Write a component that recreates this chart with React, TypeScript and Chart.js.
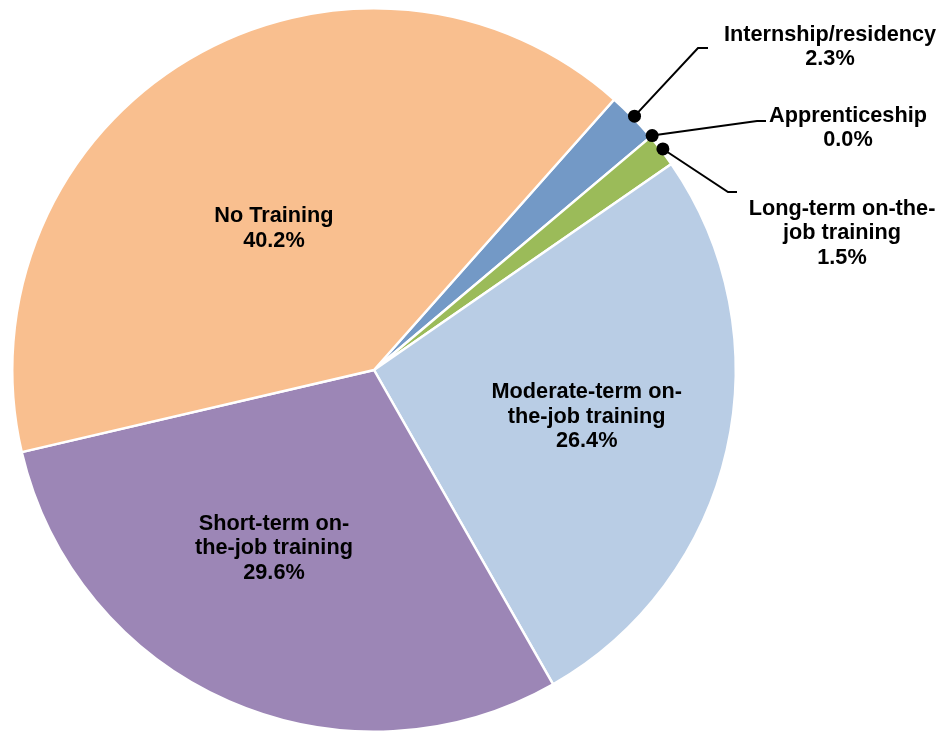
import React, { useEffect, useRef } from "react";
import { Chart, registerables } from "chart.js";

Chart.register(...registerables);

const categories = [
  "Internship/residency",
  "Apprenticeship",
  "Long-term on-the-job training",
  "Moderate-term on-the-job training",
  "Short-term on-the-job training",
  "No Training",
];
const shares = [2.3, 0.0, 1.5, 26.4, 29.6, 40.2];
const labelLines = [
  ["Internship/residency", "2.3%"],
  ["Apprenticeship", "0.0%"],
  ["Long-term on-the-", "job training", "1.5%"],
  ["Moderate-term on-", "the-job training", "26.4%"],
  ["Short-term on-", "the-job training", "29.6%"],
  ["No Training", "40.2%"],
];
const colors = ["#7399C6", "#C0504D", "#9BBB59", "#B9CDE5", "#9C86B6", "#F9BF8F"];

// inside labels: radial fraction + angle offset (deg); outside: callout geometry (relative to pie centre)
const insideLabels: Record<number, { r: number; da: number }> = {
  3: { r: 0.602, da: -0.4 },
  4: { r: 0.565, da: 5.7 },
  5: { r: 0.479, da: -4.5 },
};
const outsideLabels: Record<number, { at: "mid" | "end"; elbow: [number, number]; tail: number; text: [number, number] }> = {
  0: { at: "mid", elbow: [324, -322], tail: 10, text: [456, -335] },
  1: { at: "end", elbow: [383, -249], tail: 9, text: [474, -254] },
  2: { at: "mid", elbow: [354, -178], tail: 9, text: [468, -161] },
};

const FONT = "bold 21.7px 'Liberation Sans', Arial, sans-serif";
const LINE_H = 24.5;

const labelPlugin = {
  id: "pieLabels",
  afterDatasetsDraw(chart: any) {
    const ctx = chart.ctx;
    const meta = chart.getDatasetMeta(0);
    ctx.save();
    ctx.font = FONT;
    ctx.fillStyle = "#000";
    ctx.textAlign = "center";
    ctx.textBaseline = "middle";
    meta.data.forEach((arc: any, i: number) => {
      const { x, y, startAngle, endAngle, outerRadius } = arc.getProps(
        ["x", "y", "startAngle", "endAngle", "outerRadius"],
        true
      );
      const lines = labelLines[i];
      if (insideLabels[i]) {
        const cfg = insideLabels[i];
        const a = (startAngle + endAngle) / 2 + (cfg.da * Math.PI) / 180;
        const cx = x + Math.cos(a) * outerRadius * cfg.r;
        const cy = y + Math.sin(a) * outerRadius * cfg.r;
        const top = cy - ((lines.length - 1) * LINE_H) / 2;
        lines.forEach((t, k) => ctx.fillText(t, cx, top + k * LINE_H));
      } else if (outsideLabels[i]) {
        const cfg = outsideLabels[i];
        const a = cfg.at === "mid" ? (startAngle + endAngle) / 2 : endAngle;
        const dr = outerRadius + 2;
        const dx = x + Math.cos(a) * dr;
        const dy = y + Math.sin(a) * dr;
        const ex = x + cfg.elbow[0];
        const ey = y + cfg.elbow[1];
        ctx.strokeStyle = "#000";
        ctx.lineWidth = 2;
        ctx.beginPath();
        ctx.moveTo(dx, dy);
        ctx.lineTo(ex, ey);
        ctx.lineTo(ex + cfg.tail, ey);
        ctx.stroke();
        ctx.beginPath();
        ctx.arc(dx, dy, 6.5, 0, Math.PI * 2);
        ctx.fill();
        const tx = x + cfg.text[0];
        const ty = y + cfg.text[1];
        lines.forEach((t, k) => ctx.fillText(t, tx, ty + k * LINE_H));
      }
    });
    ctx.restore();
  },
};

export default function App() {
  const ref = useRef<HTMLCanvasElement | null>(null);
  useEffect(() => {
    if (!ref.current) return;
    const chart = new Chart(ref.current, {
      type: "pie",
      data: {
        labels: categories,
        datasets: [
          {
            data: shares,
            backgroundColor: colors,
            borderColor: "#FFFFFF",
            borderWidth: 2.5,
          },
        ],
      },
      options: {
        responsive: false,
        animation: false,
        rotation: 41.6,
        layout: { padding: { left: 11, right: 202, top: 7, bottom: 1 } },
        plugins: {
          legend: { display: false },
          tooltip: { enabled: false },
        },
      },
      plugins: [labelPlugin],
    });
    return () => chart.destroy();
  }, []);
  return (
    <div style={{ position: "fixed", left: 0, top: 0, width: 939, height: 734, background: "#fff" }}>
      <canvas ref={ref} width={939} height={734} />
    </div>
  );
}
